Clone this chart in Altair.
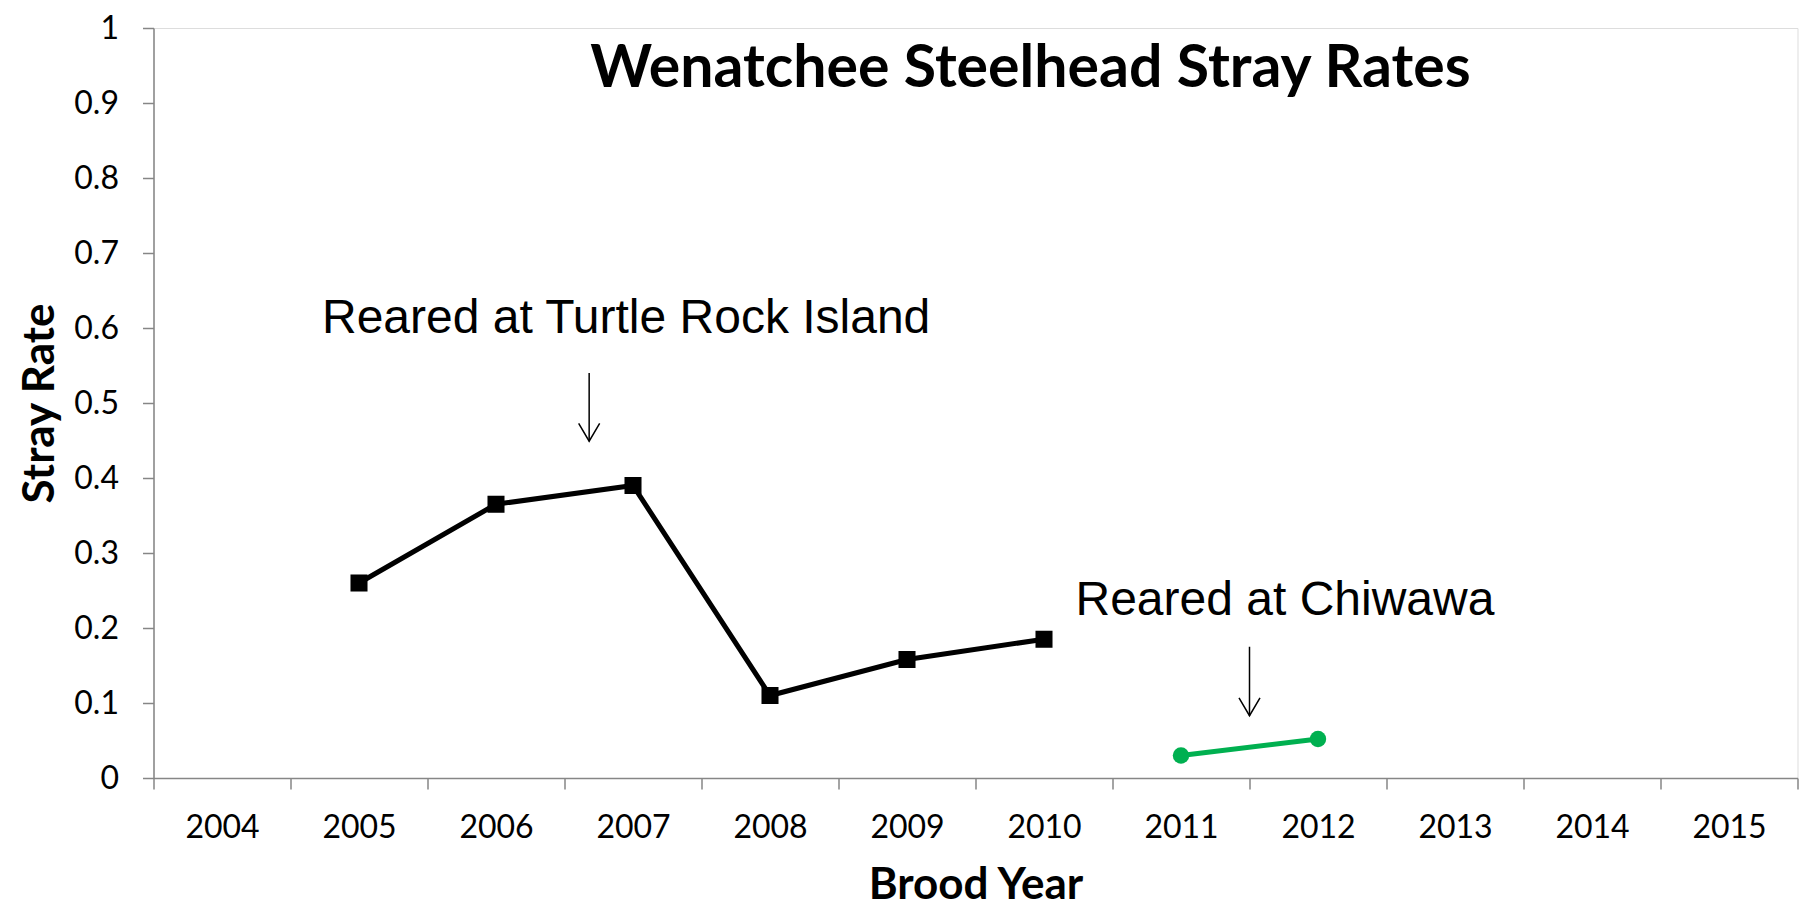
import altair as alt
import pandas as pd

# Stray rates by brood year for the two rearing locations
turtle_years = [2005, 2006, 2007, 2008, 2009, 2010]
turtle_rates = [0.26, 0.365, 0.39, 0.11, 0.158, 0.185]
chiwawa_years = [2011, 2012]
chiwawa_rates = [0.03, 0.052]

# Axis ticks and labels
year_labels = list(range(2004, 2016))
rate_ticks = [0, 0.1, 0.2, 0.3, 0.4, 0.5, 0.6, 0.7, 0.8, 0.9, 1]

# Annotation text and arrows (x in brood-year units, y in stray rate)
note_text = ["Reared at Turtle Rock Island", "Reared at Chiwawa"]
note_x = [2004.73, 2010.23]
note_y = [0.594, 0.2175]
arrow_x = [2006.68, 2011.5]
arrow_top = [0.54, 0.175]
arrow_tip = [0.449, 0.083]

W, H = 1644, 750
band = W / len(year_labels)
AXIS_GREY = "#868686"
GREEN = "#00B050"
FONT = "Lato"

turtle = pd.DataFrame({"year": turtle_years, "rate": turtle_rates})
chiwawa = pd.DataFrame({"year": chiwawa_years, "rate": chiwawa_rates})
notes = pd.DataFrame({"x": note_x, "y": note_y, "label": note_text})
arrows = pd.DataFrame({"x": arrow_x, "top": arrow_top, "tip": arrow_tip})

x_scale = alt.Scale(domain=[year_labels[0] - 0.5, year_labels[-1] + 0.5], nice=False, zero=False)
y_scale = alt.Scale(domain=[0, 1], nice=False)

# Ticks sit on the boundaries between years; labels are shifted into the middle of each year
x_axis = alt.Axis(
    values=[y - 0.5 for y in year_labels] + [year_labels[-1] + 0.5],
    labelExpr=f"datum.value < {year_labels[-1]} ? format(datum.value + 0.5, 'd') : ''",
    labelOffset=band / 2,
    labelFlush=False,
    labelOverlap=False,
    labelFont=FONT,
    labelFontSize=32,
    labelColor="black",
    labelPadding=23,
    tickSize=11,
    tickColor=AXIS_GREY,
    tickWidth=1.5,
    domainColor=AXIS_GREY,
    domainWidth=1.5,
    grid=False,
    title="Brood Year",
    titleFont=FONT,
    titleFontSize=44,
    titleFontWeight="bold",
    titleColor="black",
    titleBaseline="alphabetic",
    titleY=120,
)

y_axis = alt.Axis(
    values=rate_ticks,
    format=".1~f",
    labelFont=FONT,
    labelFontSize=32,
    labelColor="black",
    labelPadding=24,
    tickSize=11,
    tickColor=AXIS_GREY,
    tickWidth=1.5,
    domainColor=AXIS_GREY,
    domainWidth=1.5,
    grid=False,
    title="Stray Rate",
    titleFont=FONT,
    titleFontSize=44,
    titleFontWeight="bold",
    titleColor="black",
    titleAngle=-90,
    titleBaseline="alphabetic",
    titleX=-100,
    titleY=H / 2,
)

base_x = alt.X("year:Q", scale=x_scale, axis=x_axis)
base_y = alt.Y("rate:Q", scale=y_scale, axis=y_axis)

turtle_line = alt.Chart(turtle).mark_line(color="black", strokeWidth=5).encode(x=base_x, y=base_y)
turtle_pts = alt.Chart(turtle).mark_point(
    shape="square", filled=True, color="black", size=290, opacity=1
).encode(x="year:Q", y="rate:Q")

chiwawa_line = alt.Chart(chiwawa).mark_line(color=GREEN, strokeWidth=5).encode(x="year:Q", y="rate:Q")
chiwawa_pts = alt.Chart(chiwawa).mark_point(
    shape="circle", filled=True, color=GREEN, size=270, opacity=1
).encode(x="year:Q", y="rate:Q")

note_marks = alt.Chart(notes).mark_text(
    align="left", baseline="alphabetic", font="Liberation Sans", fontSize=48, color="black"
).encode(x="x:Q", y="y:Q", text="label:N")

shafts = alt.Chart(arrows).mark_rule(color="black", strokeWidth=1.5).encode(
    x="x:Q", y="top:Q", y2="tip:Q"
)
heads = alt.Chart(arrows).mark_point(
    shape="M -1 -1.7 L 0 0 L 1 -1.7", filled=False, color="black", strokeWidth=1.5, size=441, opacity=1
).encode(x="x:Q", y="tip:Q")

chart = alt.layer(
    turtle_line, turtle_pts, chiwawa_line, chiwawa_pts, note_marks, shafts, heads
).properties(
    width=W,
    height=H,
    padding={"left": 153.5, "top": 28, "right": 8.5, "bottom": 138},
    autosize=alt.AutoSizeParams(type="none"),
    title=alt.TitleParams(
        text="Wenatchee Steelhead Stray Rates",
        font=FONT,
        fontSize=59,
        fontWeight="bold",
        color="black",
        anchor="middle",
        baseline="alphabetic",
        offset=0,
        dy=134,
        dx=55,
    ),
).configure_view(stroke=None).configure(background="white")

chart.save("out.html", embed_options={"renderer": "svg", "actions": False})
